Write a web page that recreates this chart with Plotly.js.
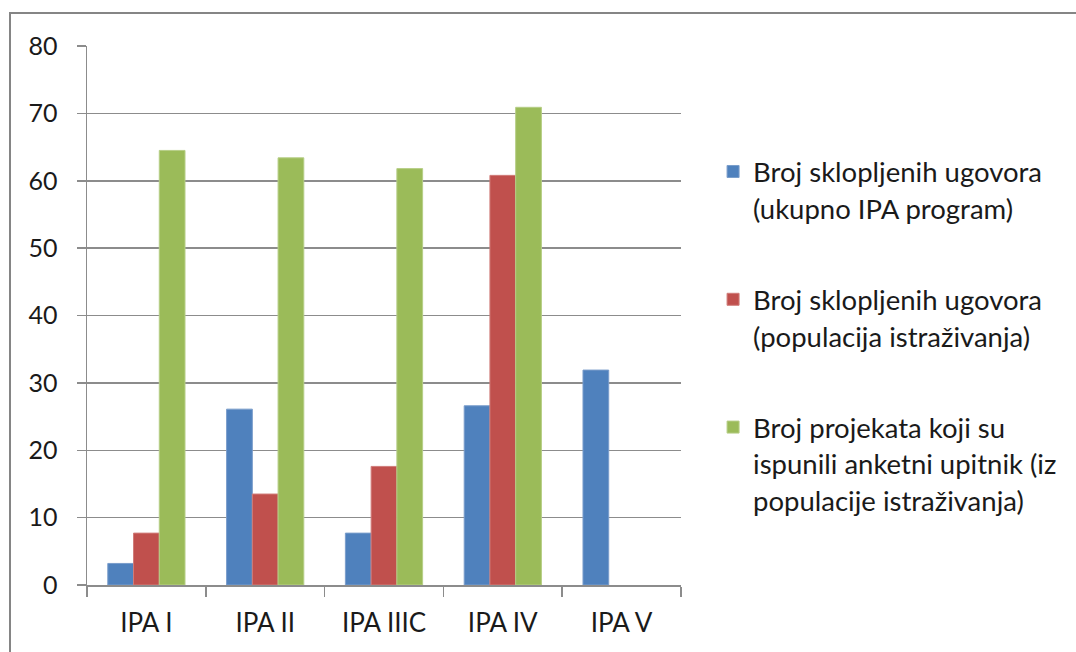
<!DOCTYPE html>
<html>
<head>
<meta charset="utf-8">
<script src="https://cdn.plot.ly/plotly-3.0.1.min.js"></script>
<style>
  html, body { margin: 0; padding: 0; background: #fff; }
  #wrap { position: relative; width: 1076px; height: 652px; overflow: hidden; }
  #frame { position: absolute; left: 9px; top: 12px; width: 1100px; height: 700px;
           border-top: 2px solid #858585; border-left: 2px solid #858585; pointer-events: none; z-index: 5; }
  #chart { position: absolute; left: 0; top: 0; width: 1076px; height: 652px; }
</style>
</head>
<body>
<div id="wrap">
  <div id="chart"></div>
  <div id="frame"></div>
</div>
<script>
const categories = ["IPA I", "IPA II", "IPA IIIC", "IPA IV", "IPA V"];
const seriesNames = [
  "Broj sklopljenih ugovora<br>(ukupno IPA program)",
  "Broj sklopljenih ugovora<br>(populacija istraživanja)",
  "Broj projekata koji su<br>ispunili anketni upitnik (iz<br>populacije istraživanja)"
];
const ukupnoIPA = [3.2, 26.1, 7.7, 26.6, 31.9];
const populacija = [7.7, 13.5, 17.6, 60.8, null];
const anketa = [64.5, 63.4, 61.8, 70.9, null];
const colors = ["#4F81BD", "#C0504D", "#9BBB59"];
const lineColors = ["#7A9DCB", "#D07C79", "#B6CE86"];
const yTicks = [0, 10, 20, 30, 40, 50, 60, 70, 80];

const values = [ukupnoIPA, populacija, anketa];
const wrapLine = s => '<span style="font-size:27.5px">' + s + '</span>';
const traces = values.map((v, i) => ({
  type: "bar",
  x: categories,
  y: v,
  name: seriesNames[i].split("<br>").map(wrapLine).join("<br>"),
  legendgroup: "g" + i,
  marker: { color: colors[i], line: { color: lineColors[i], width: 1 } },
  hoverinfo: "x+y"
}));

const layout = {
  width: 1076, height: 652,
  margin: { l: 87, r: 395, t: 46, b: 67, pad: 0 },
  paper_bgcolor: "#ffffff", plot_bgcolor: "#ffffff",
  font: { family: "Lato, 'Open Sans', sans-serif", color: "#1a1a1a" },
  barmode: "group",
  bargap: 0.35,
  bargroupgap: 0,
  showlegend: true,
  legend: {
    x: 1.054, xanchor: "left",
    y: 0.813, yanchor: "top",
    valign: "top",
    font: { size: 28, color: "#1a1a1a", family: "Lato, sans-serif" },
    tracegroupgap: 52,
    traceorder: "grouped",
    bgcolor: "rgba(0,0,0,0)"
  },
  xaxis: {
    type: "category",
    showline: true, linecolor: "#8c8c8c", linewidth: 1.5,
    ticks: "outside", tickson: "boundaries", ticklen: 10, tickcolor: "#8c8c8c", tickwidth: 1.5,
    tickfont: { size: 26, color: "#1a1a1a" },
    ticklabelstandoff: 14,
    showgrid: false
  },
  yaxis: {
    range: [0, 80], tickvals: yTicks, ticktext: yTicks.map(String),
    showline: true, linecolor: "#8c8c8c", linewidth: 1.5,
    ticks: "outside", ticklen: 9, tickcolor: "#8c8c8c", tickwidth: 1.5,
    showgrid: true, gridcolor: "#8c8c8c", gridwidth: 1.5,
    zeroline: false,
    tickfont: { size: 25, color: "#1a1a1a" },
    ticklabelstandoff: 14
  }
};

Plotly.newPlot("chart", traces, layout, { displayModeBar: false, staticPlot: true });
</script>
</body>
</html>
